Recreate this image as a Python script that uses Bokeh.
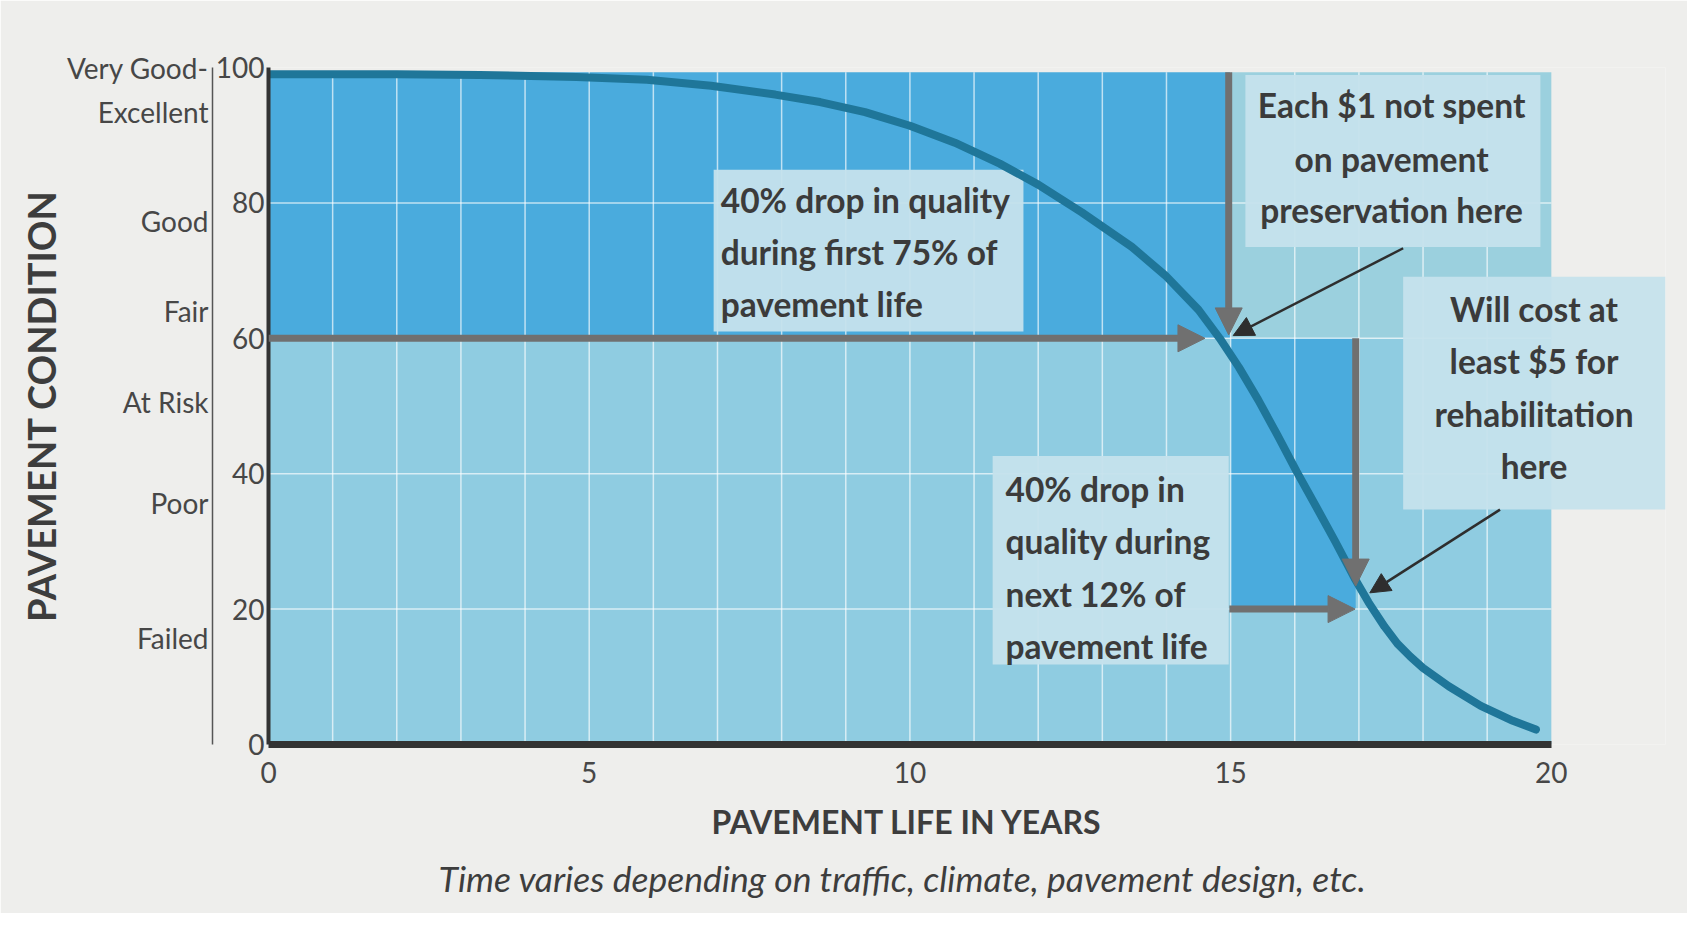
from bokeh.plotting import figure
from bokeh.models import Range1d, FixedTicker, LinearAxis, Arrow, NormalHead, Title
from bokeh.core.properties import value
from bokeh.embed import file_html
from bokeh.resources import INLINE

# ---------------- data ----------------
YEARS = [0, 2, 3.3, 4.8, 5.9, 6.9, 7.9, 8.6, 9.3, 10.0, 10.7, 11.4, 12.0, 12.68, 13.46,
         13.98, 14.5, 14.83, 15.13, 15.43, 15.73, 16.03, 16.33, 16.63, 16.93, 17.15,
         17.4, 17.6, 17.8, 18.0, 18.4, 18.9, 19.4, 19.76]
CONDITION = [99.0, 99.0, 98.9, 98.6, 98.2, 97.3, 96.0, 94.9, 93.4, 91.4, 88.9, 85.8,
             82.7, 78.6, 73.5, 69.3, 64.2, 60.0, 55.7, 50.9, 45.7, 40.3, 35.2, 30.0,
             24.6, 21.0, 17.4, 14.9, 13.0, 11.3, 8.6, 5.7, 3.5, 2.2]

X_TICKS = [0, 5, 10, 15, 20]
Y_TICKS = [0, 20, 40, 60, 80, 100]
CONDITION_NAMES = ["Very Good-", "Excellent", "Good", "Fair", "At Risk", "Poor", "Failed"]
CONDITION_NAME_POS = [100, 93.5, 77.4, 64.0, 50.6, 35.6, 15.8]

X_TITLE = "PAVEMENT LIFE IN YEARS"
X_SUBTITLE = "Time varies depending on traffic, climate, pavement design, etc."
Y_TITLE = "PAVEMENT CONDITION"

# shaded zones (years x condition)
ZONE_LEFT = [0, 0, 15, 15]
ZONE_RIGHT = [20, 15, 20, 16.95]
ZONE_BOTTOM = [0, 60, 60, 20]
ZONE_TOP = [60, 99.3, 99.3, 60]

# grid
GRID_X = list(range(1, 20))
GRID_Y = [20, 40, 60, 80]

# annotation boxes
BOX_LEFT = [6.94, 15.23, 17.69, 11.29]
BOX_RIGHT = [11.77, 19.83, 21.78, 14.97]
BOX_BOTTOM = [61.0, 73.5, 34.7, 11.8]
BOX_TOP = [84.9, 98.9, 69.1, 42.6]

# annotation texts
LEFT_LINES = ["40% drop in quality", "during first 75% of", "pavement life",
              "40% drop in", "quality during", "next 12% of", "pavement life"]
LEFT_X = [7.05, 7.05, 7.05, 11.49, 11.49, 11.49, 11.49]
LEFT_Y = [80.4, 72.8, 65.1, 37.8, 30.1, 22.3, 14.6]
CENTER_LINES = ["Each $1 not spent", "on pavement", "preservation here",
                "Will cost at", "least $5 for", "rehabilitation", "here"]
CENTER_X = [17.51, 17.51, 17.51, 19.73, 19.73, 19.73, 19.73]
CENTER_Y = [94.4, 86.5, 78.9, 64.4, 56.6, 48.8, 41.1]

# arrows (start -> end)
GRAY_X0 = [0, 14.97, 16.95, 14.98]
GRAY_Y0 = [60, 99.3, 60, 20]
GRAY_X1 = [14.6, 14.97, 16.95, 16.94]
GRAY_Y1 = [60, 60.5, 23.4, 20]
BLACK_X0 = [17.69, 19.2]
BLACK_Y0 = [73.3, 34.7]
BLACK_X1 = [15.04, 17.17]
BLACK_Y1 = [60.4, 22.4]

# ---------------- styles ----------------
PAGE = "#eeeeec"
ZONE_COLORS = ["#8fcce1", "#4aabdd", "#9bd0de", "#4aabdd"]
BOX_COLOR = "#c5e2ec"
CURVE_COLOR = "#1f7699"
GRAY = "#707070"
DARK = "#2e2e2e"
TEXT = "#3b3b3b"
AXIS_TEXT = "#474747"
FONT = "Lato"

p = figure(width=1687, height=913, x_range=Range1d(0, 21.78), y_range=Range1d(0, 100),
           min_border_left=268, min_border_right=22, min_border_top=67, min_border_bottom=169,
           toolbar_location=None, output_backend="svg",
           background_fill_color=PAGE, border_fill_color=PAGE, outline_line_color=None)
p.grid.visible = False

# zones
p.quad(left=ZONE_LEFT, right=ZONE_RIGHT, bottom=ZONE_BOTTOM, top=ZONE_TOP,
       fill_color=ZONE_COLORS, line_color=None, level="image")

# grid lines
p.segment(x0=GRID_X, y0=[0] * len(GRID_X), x1=GRID_X, y1=[ZONE_TOP[1]] * len(GRID_X),
          line_color="white", line_alpha=0.65, line_width=1.5, level="underlay")
p.segment(x0=[0] * len(GRID_Y), y0=GRID_Y, x1=[X_TICKS[-1]] * len(GRID_Y), y1=GRID_Y,
          line_color="white", line_alpha=0.65, line_width=1.5, level="underlay")

# boxes
p.quad(left=BOX_LEFT, right=BOX_RIGHT, bottom=BOX_BOTTOM, top=BOX_TOP,
       fill_color=BOX_COLOR, fill_alpha=0.95, line_color=None)

# texts
p.text(x=LEFT_X, y=LEFT_Y, text=LEFT_LINES, text_align="left", text_baseline="middle",
       text_font=value(FONT), text_font_style="bold", text_font_size="33.5px", text_color=TEXT)
p.text(x=CENTER_X, y=CENTER_Y, text=CENTER_LINES, text_align="center", text_baseline="middle",
       text_font=value(FONT), text_font_style="bold", text_font_size="33.5px", text_color=TEXT)

# curve
p.line(YEARS, CONDITION, line_color=CURVE_COLOR, line_width=8, line_cap="round", line_join="round")

# arrows
for x0, y0, x1, y1 in zip(GRAY_X0, GRAY_Y0, GRAY_X1, GRAY_Y1):
    p.add_layout(Arrow(x_start=x0, y_start=y0, x_end=x1, y_end=y1,
                       line_color=GRAY, line_width=7,
                       end=NormalHead(size=27, fill_color=GRAY, line_color=GRAY, line_width=1)))
for x0, y0, x1, y1 in zip(BLACK_X0, BLACK_Y0, BLACK_X1, BLACK_Y1):
    p.add_layout(Arrow(x_start=x0, y_start=y0, x_end=x1, y_end=y1,
                       line_color=DARK, line_width=2.5,
                       end=NormalHead(size=20, fill_color=DARK, line_color=DARK, line_width=1)))

# x axis
xa = p.xaxis[0]
xa.ticker = FixedTicker(ticks=X_TICKS)
xa.bounds = (X_TICKS[0], X_TICKS[-1])
xa.axis_line_width = 7
xa.axis_line_color = "#333333"
xa.major_tick_line_color = None
xa.major_tick_out = 0
xa.major_tick_in = 0
xa.minor_tick_line_color = None
xa.minor_tick_out = 0
xa.major_label_standoff = 17
xa.major_label_text_font = FONT
xa.major_label_text_font_size = "28px"
xa.major_label_text_color = AXIS_TEXT

# y axis (numbers)
ya = p.yaxis[0]
ya.ticker = FixedTicker(ticks=Y_TICKS)
ya.bounds = (Y_TICKS[0], Y_TICKS[-1])
ya.axis_line_width = 4
ya.axis_line_color = "#333333"
ya.major_tick_line_color = None
ya.major_tick_out = 0
ya.major_tick_in = 0
ya.minor_tick_line_color = None
ya.minor_tick_out = 0
ya.major_label_standoff = 4
ya.major_label_text_font = FONT
ya.major_label_text_font_size = "28px"
ya.major_label_text_color = AXIS_TEXT

# condition names axis
ca = LinearAxis(ticker=FixedTicker(ticks=CONDITION_NAME_POS),
                major_label_overrides={pos: name for pos, name in zip(CONDITION_NAME_POS, CONDITION_NAMES)},
                bounds=(Y_TICKS[0], Y_TICKS[-1]),
                axis_line_color="#555555", axis_line_width=1.5,
                major_tick_line_color=None, minor_tick_line_color=None,
                major_tick_out=0, major_tick_in=0, minor_tick_out=0,
                major_label_standoff=4, major_label_text_font=FONT,
                major_label_text_font_size="28px", major_label_text_color=AXIS_TEXT,
                axis_label=Y_TITLE, axis_label_standoff=0,
                axis_label_text_font=FONT, axis_label_text_font_style="bold",
                axis_label_text_font_size="38px", axis_label_text_color="#3d3d3d")
p.add_layout(ca, "left")

# x titles
p.add_layout(Title(text=X_TITLE, align="left", offset=443, standoff=28,
                   text_font=FONT, text_font_style="bold",
                   text_font_size="32px", text_color="#3d3d3d"), "below")
p.add_layout(Title(text=X_SUBTITLE, align="left", offset=170, standoff=0,
                   text_font=FONT, text_font_style="italic",
                   text_font_size="35.5px", text_color="#3d3d3d"), "below")

open("out.html", "w").write(file_html(p, INLINE))
